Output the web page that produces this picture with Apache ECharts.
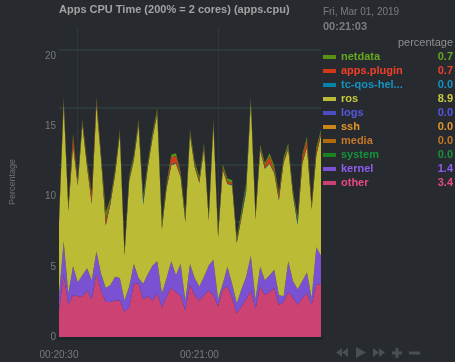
<!DOCTYPE html>
<html>
<head>
<meta charset="utf-8">
<script src="https://cdn.jsdelivr.net/npm/echarts@6/dist/echarts.min.js"></script>
<style>
  html, body { margin: 0; padding: 0; background: #272b30; }
  #chart { width: 455px; height: 362px; }
</style>
</head>
<body>
<div id="chart"></div>
<script>
// ---------------- data (one point per second, 00:20:30 .. 00:21:26) ----------------
const startSec = 20 * 60 + 30;
const times = [];
for (let i = 0; i < 57; i++) {
  const s = startSec + i;
  const mm = String(Math.floor(s / 60)).padStart(2, "0");
  const ss = String(s % 60).padStart(2, "0");
  times.push("00:" + mm + ":" + ss);
}

// stack order, bottom -> top
const other = [1.9,4.4,2.3,3.0,2.9,2.9,3.3,2.7,4.5,3.3, 2.5,2.5,2.6,2.6,1.8,2.1,3.8,3.8,2.7,2.9,
  2.6,3.1,2.1,2.9,3.5,3.2,2.9,1.9,3.7,3.0, 2.6,3.0,3.3,3.0,2.2,3.4,3.6,2.8,1.7,2.2,
  2.7,3.3,2.0,3.6,3.0,3.2,3.5,2.3,2.5,3.2, 2.8,2.3,2.8,3.1,2.3,3.7,3.8];
const kernel = [1.1,2.4,0.8,2.05,1.0,1.5,1.6,1.35,1.6,1.2, 1.0,1.2,1.7,1.6,0.8,1.5,1.4,0.4,1.1,1.6,
  2.5,2.3,1.0,1.3,1.9,1.2,2.3,0.7,1.5,1.2, 1.0,1.3,1.8,2.5,0.5,0.4,1.4,1.0,0.7,1.2,
  1.6,2.5,0.7,1.4,1.05,1.2,1.3,0.7,0.4,2.2, 1.2,1.1,1.2,1.5,0.5,2.7,2.0];
// system, media, ssh, logs stay at 0.0 over the whole window
const idle = [0,0,0,0,0,0,0,0,0,0, 0,0,0,0,0,0,0,0,0,0, 0,0,0,0,0,0,0,0,0,0,
  0,0,0,0,0,0,0,0,0,0, 0,0,0,0,0,0,0,0,0,0, 0,0,0,0,0,0,0];
const ros = [5.1,9.85,5.9,8.6,6.9,10.7,7.2,5.45,10.45,8.1, 4.45,5.8,7.3,10.2,3.2,7.5,7.4,10.9,5.65,7.6,
  9.1,10.5,4.6,6.4,6.85,7.95,6.2,5.6,9.2,7.9, 7.4,9.1,3.2,9.6,4.4,8.1,5.9,7.0,4.3,5.1,
  6.05,10.9,5.7,8.3,7.95,7.95,6.9,6.75,9.5,8.0, 6.1,4.6,8.35,8.95,6.3,6.55,8.6];
const tcQos = [0.05,0.05,0.05,0.05,0.05,0.05,0.05,0.1,0.05,0.05, 0.05,0.05,0.05,0.05,0.05,0.05,0.05,0.05,0.3,0.05,
  0.05,0.05,0.05,0.05,0.05,0.05,0.05,0.05,0.05,0.05, 0.05,0.05,0.05,0.05,0.05,0.05,0.05,0.05,0.05,0.05,
  0.3,0.05,0.05,0.05,0.05,0.05,0.05,0.05,0.05,0.05, 0.05,0.25,0.05,0.05,0.05,0.05,0.05];
const appsPlugin = [0.15,0.2,0.15,0.6,0.15,0.15,0.15,0.5,0.3,0.15, 0.4,0.15,0.15,0.15,0.15,0.15,0.15,0.15,0.15,0.15,
  0.15,0.15,0.15,0.15,0.5,0.5,0.15,0.15,0.15,0.15, 0.15,0.15,0.15,0.15,0.15,0.15,0.15,0.15,0.15,0.15,
  0.15,0.15,0.15,0.15,0.15,0.5,0.15,0.3,0.15,0.15, 0.15,0.15,0.4,0.5,0.15,0.3,0.15];
const netdata = [0.2,0.2,0.2,0.2,0.2,0.2,0.2,0.2,0.2,0.2, 0.5,0.2,0.2,0.2,0.2,0.2,0.2,0.2,0.2,0.2,
  0.2,0.2,0.3,0.2,0.2,0.2,0.2,0.3,0.2,0.2, 0.2,0.2,0.2,0.2,0.2,0.2,0.2,0.2,0.2,0.3,
  0.2,0.2,0.2,0.2,0.2,0.2,0.3,0.2,0.2,0.2, 0.2,0.2,0.2,0.2,0.2,0.2,0.2];

// legend (top -> bottom), its labels and values shown at 00:21:03
const dims = ["netdata", "apps.plugin", "tc-qos-helper", "ros", "logs", "ssh", "media", "system", "kernel", "other"];
const dimLabels = ["netdata", "apps.plugin", "tc-qos-hel...", "ros", "logs", "ssh", "media", "system", "kernel", "other"];
const legendValues = ["0.7", "0.7", "0.0", "8.9", "0.0", "0.0", "0.0", "0.0", "1.4", "3.4"];
// area fill (already blended on the dark background) and legend text colours
const fillColors = ["#5a9112", "#d33818", "#0883a8", "#bbbb35", "#4a4dc4", "#cc8519", "#b0690c", "#1a8222", "#7b51d4", "#cc4272"];
const textColors = ["#64a820", "#f0402a", "#1593c0", "#c9c93c", "#5457de", "#e2962a", "#c27628", "#17923a", "#8f5df2", "#e84a80"];
const dimData = {
  "netdata": netdata, "apps.plugin": appsPlugin, "tc-qos-helper": tcQos, "ros": ros,
  "logs": idle, "ssh": idle, "media": idle, "system": idle, "kernel": kernel, "other": other,
};

const FONT = "'Liberation Sans', Arial, sans-serif";

let chartDom = document.getElementById("chart");
let myChart = echarts.init(chartDom);

// series are stacked bottom-up, so walk the legend in reverse
const series = [];
for (let k = dims.length - 1; k >= 0; k--) {
  series.push({
    name: dims[k],
    type: "line",
    stack: "cpu",
    data: dimData[dims[k]],
    showSymbol: false,
    symbol: "none",
    smooth: false,
    color: fillColors[k],
    lineStyle: { width: 0 },
    areaStyle: { opacity: 1 },
  });
}

let option = {
  backgroundColor: "#272b30",
  animation: false,
  title: {
    text: "Apps CPU Time (200% = 2 cores) (apps.cpu)",
    left: 59,
    top: 4,
    padding: 0,
    textStyle: { color: "#a2a2a2", fontSize: 11, fontWeight: "bold", fontFamily: FONT },
  },
  legend: {
    orient: "vertical",
    left: 323,
    top: 50,
    padding: 0,
    itemGap: 0,
    itemWidth: 13,
    itemHeight: 4,
    icon: "rect",
    selectedMode: false,
    data: dims.map((d, k) => ({ name: d, textStyle: { color: textColors[k] } })),
    formatter: (name) => {
      const k = dims.indexOf(name);
      return "{n|" + dimLabels[k] + "}{v|" + legendValues[k] + "}";
    },
    textStyle: {
      fontSize: 11,
      fontWeight: "bold",
      fontFamily: FONT,
      lineHeight: 14,
      rich: {
        n: { width: 84, fontSize: 11, fontWeight: "bold", fontFamily: FONT },
        v: { width: 28, align: "right", fontSize: 11, fontWeight: "bold", fontFamily: FONT },
      },
    },
  },
  grid: { left: 58, right: 134, top: 27, bottom: 25 },
  xAxis: {
    type: "category",
    boundaryGap: false,
    data: times,
    axisLine: { lineStyle: { color: "#1d2727", width: 5 } },
    axisTick: { show: false },
    axisLabel: {
      interval: (i) => i % 30 === 0,
      color: "#7a7a7a",
      fontSize: 10,
      fontFamily: FONT,
      margin: 13,
    },
    splitLine: {
      show: true,
      interval: (i) => i === 4 || i === 34,
      lineStyle: { color: "#30363b", width: 1 },
    },
  },
  yAxis: [
    {
      type: "value",
      min: 0,
      max: 22.1,
      interval: 5,
      name: "Percentage",
      nameLocation: "middle",
      nameRotate: 90,
      nameGap: 42,
      nameTextStyle: { color: "#6f6f6f", fontSize: 9, fontFamily: FONT },
      axisLine: { show: false },
      axisTick: { show: false },
      axisLabel: { color: "#7a7a7a", fontSize: 10, fontFamily: FONT, margin: 3, showMaxLabel: false },
      splitLine: { show: false },
    },
    {
      // grid lines only
      type: "value",
      position: "left",
      min: 0,
      max: 5.4,
      interval: 1,
      axisLine: { show: false },
      axisTick: { show: false },
      axisLabel: { show: false },
      splitLine: { show: true, showMinLine: false, showMaxLine: false, lineStyle: { color: "#2d3a3a", width: 2 } },
    },
  ],
  graphic: [
    { type: "text", left: 323, top: 7, style: { text: "Fri, Mar 01, 2019", fill: "#7c7c7c", font: "10px " + FONT } },
    { type: "text", left: 323, top: 21, style: { text: "00:21:03", fill: "#7c7c7c", font: "bold 11px " + FONT } },
    { type: "text", right: 2, top: 37, style: { text: "percentage", fill: "#8e8e8e", font: "11px " + FONT } },
    // playback toolbar
    { type: "polygon", shape: { points: [[342, 348], [336, 352.5], [342, 357]] }, style: { fill: "#4a4f55" } },
    { type: "polygon", shape: { points: [[348, 348], [342, 352.5], [348, 357]] }, style: { fill: "#4a4f55" } },
    { type: "polygon", shape: { points: [[356, 347], [366, 352.5], [356, 358]] }, style: { fill: "#4a4f55" } },
    { type: "polygon", shape: { points: [[373, 348], [379, 352.5], [373, 357]] }, style: { fill: "#4a4f55" } },
    { type: "polygon", shape: { points: [[379, 348], [385, 352.5], [379, 357]] }, style: { fill: "#4a4f55" } },
    { type: "rect", shape: { x: 392, y: 351.5, width: 10, height: 3 }, style: { fill: "#4a4f55" } },
    { type: "rect", shape: { x: 395.5, y: 348, width: 3, height: 10 }, style: { fill: "#4a4f55" } },
    { type: "rect", shape: { x: 409, y: 351.5, width: 11, height: 3 }, style: { fill: "#4a4f55" } },
  ],
  series: series,
};
myChart.setOption(option);

window.onresize = function () {
  myChart.resize();
};
</script>
</body>
</html>
